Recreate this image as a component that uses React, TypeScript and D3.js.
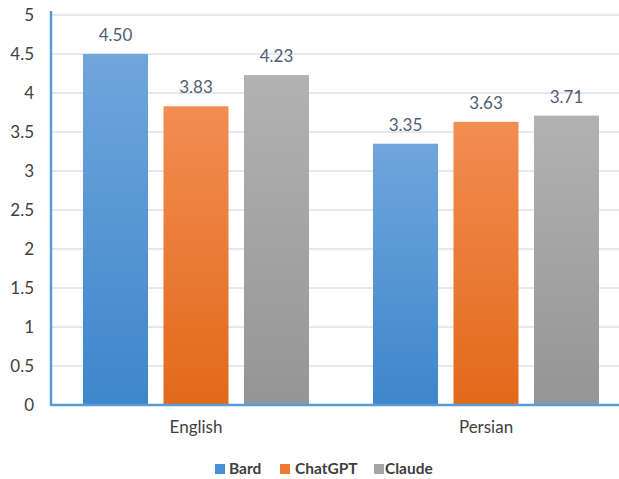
import React from "react";
import * as d3 from "d3";

const categories = ["English", "Persian"];
const seriesNames = ["Bard", "ChatGPT", "Claude"];
const bard = [4.5, 3.35];
const chatgpt = [3.83, 3.63];
const claude = [4.23, 3.71];
const yTicks = [0, 0.5, 1, 1.5, 2, 2.5, 3, 3.5, 4, 4.5, 5];

const seriesValues = [bard, chatgpt, claude];
const gradients = [
  ["#6fa6dc", "#3e86cb"],
  ["#f28d52", "#e2691a"],
  ["#b2b2b2", "#959595"],
];
const legendColors = ["#4a90d6", "#ed7a30", "#a5a5a5"];

export default function App() {
  const W = 619, H = 479;
  const left = 51, bottom = 405, top = 15;
  const font = "Lato, 'Open Sans', sans-serif";
  const y = d3.scaleLinear().domain([0, 5]).range([bottom, top]);
  const x0 = d3.scaleBand().domain(categories).range([left, left + 580]).paddingInner(0).paddingOuter(0);
  const barW = 65, gap = 15.5;
  const groupW = barW * 3 + gap * 2;
  const legendX = [215, 280, 374];
  const legendTextX = [229, 295, 385];
  return (
    <svg width={W} height={H} style={{ position: "absolute", left: 0, top: 0, background: "#fff" }}>
      <defs>
        {gradients.map((g, i) => (
          <linearGradient key={i} id={`g${i}`} x1="0" y1="0" x2="0" y2="1">
            <stop offset="0%" stopColor={g[0]} />
            <stop offset="100%" stopColor={g[1]} />
          </linearGradient>
        ))}
      </defs>
      {yTicks.map((t) => (
        <g key={t}>
          {t > 0 && <line x1={left} x2={W} y1={y(t)} y2={y(t)} stroke="#dde1e8" strokeWidth={1.5} />}
          <text x={34} y={y(t) + 6} textAnchor="end" fontFamily={font} fontSize={17} fill="#404040">
            {String(t)}
          </text>
        </g>
      ))}
      {categories.map((c, ci) => {
        const bx = (x0(c) as number) + (x0.bandwidth() - groupW) / 2;
        return (
          <g key={c}>
            {seriesValues.map((vals, si) => {
              const xx = bx + si * (barW + gap);
              const v = vals[ci];
              return (
                <g key={si}>
                  <rect x={xx} y={y(v)} width={barW} height={bottom - y(v)} fill={`url(#g${si})`} />
                  <text x={xx + barW / 2} y={y(v) - 13} textAnchor="middle" fontFamily={font} fontSize={17} fill="#505e73">
                    {v.toFixed(2)}
                  </text>
                </g>
              );
            })}
            <text x={(x0(c) as number) + x0.bandwidth() / 2} y={433} textAnchor="middle" fontFamily={font} fontSize={17} fill="#404040">
              {c}
            </text>
          </g>
        );
      })}
      <line x1={left} x2={left} y1={top - 4} y2={bottom + 1} stroke="#5b9bd5" strokeWidth={2.5} />
      <line x1={left} x2={W} y1={bottom} y2={bottom} stroke="#5b9bd5" strokeWidth={2.5} />
      {seriesNames.map((n, i) => (
        <g key={n}>
          <rect x={legendX[i]} y={464} width={10} height={10} fill={legendColors[i]} />
          <text x={legendTextX[i]} y={474} fontFamily={font} fontSize={15.5} fontWeight="bold" fill="#404040">
            {n}
          </text>
        </g>
      ))}
    </svg>
  );
}
